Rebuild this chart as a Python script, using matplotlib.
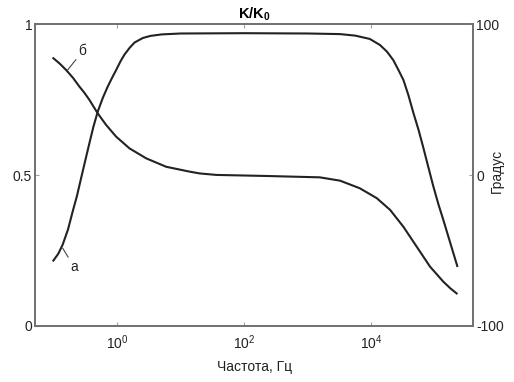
import matplotlib
matplotlib.use("Agg")
import matplotlib.pyplot as plt
from matplotlib.ticker import NullLocator

plt.rcParams['font.family'] = ['Liberation Sans', 'DejaVu Sans']
plt.rcParams['mathtext.fontset'] = 'custom'
plt.rcParams['mathtext.rm'] = 'Liberation Sans'
plt.rcParams['mathtext.bf'] = 'Liberation Sans:bold'
plt.rcParams['mathtext.it'] = 'Liberation Sans:italic'

# Curve "а": amplitude ratio K/K0 (left axis)
freq_a = [0.0977, 0.117, 0.137, 0.166, 0.197, 0.229, 0.267, 0.316, 0.361, 0.417,
          0.489, 0.589, 0.703, 0.832, 0.955, 1.12, 1.29, 1.55, 1.86, 2.51,
          3.31, 5.01, 10, 100, 1000, 3240, 5620, 9550, 13800, 17800, 22400,
          26900, 32400, 38900, 46800, 56200, 66100, 79400, 95500, 115000,
          138000, 178000, 229000]
amp_a = [0.217, 0.24, 0.27, 0.32, 0.38, 0.43, 0.49, 0.555, 0.606, 0.66,
         0.711, 0.757, 0.794, 0.825, 0.849, 0.878, 0.900, 0.922, 0.940, 0.955,
         0.962, 0.967, 0.970, 0.971, 0.970, 0.968, 0.963, 0.952, 0.932, 0.91,
         0.882, 0.85, 0.816, 0.765, 0.705, 0.650, 0.595, 0.530, 0.465, 0.405,
         0.352, 0.275, 0.199]

# Curve "б": phase, degrees (right axis)
freq_b = [0.0977, 0.123, 0.155, 0.2, 0.251, 0.302, 0.361, 0.489, 0.662, 0.953,
          1.55, 2.84, 5.87, 13.7, 19.7, 36.3, 224, 1550, 3240, 6610, 12300,
          20000, 32400, 52500, 85100, 138000, 178000, 224000]
phase_b = [77.6, 74.0, 69.8, 64.5, 58.8, 54.6, 50.0, 41.0, 33.4, 25.6,
           17.8, 11.2, 5.6, 2.4, 1.2, 0.2, -0.5, -1.4, -3.6, -8.6, -15.2,
           -23.0, -34.2, -47.4, -60.6, -70.6, -75.0, -78.4]

xticks = [1, 100, 10000]
left_ticks = [0, 0.5, 1]
left_labels = ['0', '0.5', '1']
right_ticks = [-100, 0, 100]
right_labels = ['-100', '0', '100']

spine_col = '#707070'
fig = plt.figure(figsize=(5.14, 3.82), dpi=100)
ax = fig.add_axes([0.068, 0.1466, 0.8528, 0.7894])
ax2 = ax.twinx()

ax.plot(freq_a, amp_a, color='#222222', lw=1.5, solid_joinstyle='round')
ax2.plot(freq_b, phase_b, color='#222222', lw=1.5, solid_joinstyle='round')

ax.set_xscale('log')
ax.set_xlim(0.05, 4.1e5)
ax.set_ylim(0, 1)
ax2.set_ylim(-100, 100)
ax.set_xticks(xticks)
ax.xaxis.set_minor_locator(NullLocator())
ax.set_yticks(left_ticks)
ax.set_yticklabels(left_labels)
ax2.set_yticks(right_ticks)
ax2.set_yticklabels(right_labels)

for a in (ax, ax2):
    for s in a.spines.values():
        s.set_color(spine_col)
        s.set_linewidth(1.2)
    a.tick_params(direction='in', length=3, color='#a0a0a0', labelsize=10,
                  labelcolor='#222222', pad=2)
ax.tick_params(axis='x', top=True, pad=5)

ax.set_title(r'$\mathbf{K/K_0}$', fontsize=10.5, pad=4)
ax.set_xlabel('Частота, Гц', fontsize=10, labelpad=6, color='#222222')
ax2.set_ylabel('Градус', fontsize=10, color='#222222')
ax2.yaxis.set_label_coords(1.038, 0.515)

ax.annotate('б', xy=(0.164, 0.849), xytext=(0.245, 0.888),
            fontsize=10, color='#222222', ha='left', va='bottom',
            arrowprops=dict(arrowstyle='-', color='#444444', lw=0.8,
                            shrinkA=0, shrinkB=0))
ax.annotate('а', xy=(0.137, 0.258), xytext=(0.18, 0.219),
            fontsize=10, color='#222222', ha='left', va='top',
            arrowprops=dict(arrowstyle='-', color='#444444', lw=0.8,
                            shrinkA=0, shrinkB=0))

fig.savefig('out.png', dpi=100)
